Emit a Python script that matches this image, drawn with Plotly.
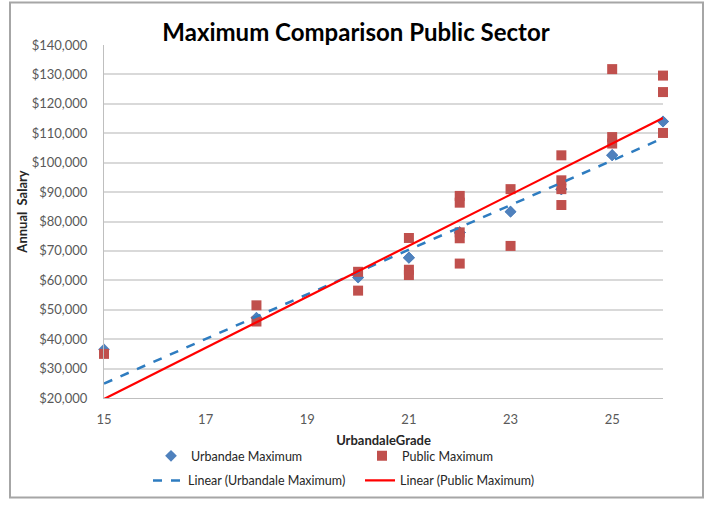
import numpy as np
import plotly.graph_objects as go

# ---- data (one row per matched public position) ----
grade = [15, 18, 18, 20, 20, 21, 21, 21, 22, 22, 22, 22, 22,
         23, 23, 24, 24, 24, 24, 25, 25, 25, 26, 26, 26]
urbandale_max = [36500, 47250, 47250, 61000, 61000, 67700, 67700, 67700,
                 76300, 76300, 76300, 76300, 76300, 83350, 83350,
                 91000, 91000, 91000, 91000, 102550, 102550, 102550,
                 114000, 114000, 114000]
public_max = [35000, 51500, 46000, 62900, 56500, 74400, 63600, 61800,
              88700, 86400, 76300, 74300, 65700, 91000, 71700,
              102500, 94000, 91000, 85600, 131800, 108700, 106500,
              129600, 124000, 110100]

y_tick_vals = [20000, 30000, 40000, 50000, 60000, 70000, 80000,
               90000, 100000, 110000, 120000, 130000, 140000]
y_tick_text = ["$" + format(v, ",") for v in y_tick_vals]
x_range = [15, 26]

# linear trendlines (least squares, like Excel)
g = np.array(grade, dtype=float)
u_fit = np.polyfit(g, np.array(urbandale_max, dtype=float), 1)
p_fit = np.polyfit(g, np.array(public_max, dtype=float), 1)
trend_x = np.array(x_range, dtype=float)

FONT = "Lato"

fig = go.Figure()
fig.add_trace(go.Scatter(
    x=grade, y=urbandale_max, mode="markers", name="Urbandae Maximum",
    marker=dict(symbol="diamond", size=9, color="#4F81BD"),
    cliponaxis=False, legend="legend"))
fig.add_trace(go.Scatter(
    x=grade, y=public_max, mode="markers", name="Public Maximum",
    marker=dict(symbol="square", size=10, color="#C0504D"),
    cliponaxis=False, legend="legend"))
fig.add_trace(go.Scatter(
    x=trend_x, y=np.polyval(u_fit, trend_x), mode="lines",
    name="Linear (Urbandale Maximum)",
    line=dict(color="#2E7CC0", width=2.5, dash="dash"),
    legend="legend2"))
fig.add_trace(go.Scatter(
    x=trend_x, y=np.polyval(p_fit, trend_x), mode="lines",
    name="Linear (Public Maximum)",
    line=dict(color="#FF0000", width=2.2),
    legend="legend2"))

L, R, T, B = 104, 47, 45, 105
W, H = 710, 508
pw, ph = W - L - R, H - T - B


def px(xp):
    return (xp - L) / pw


def py(yp):
    return (H - B - yp) / ph


fig.update_layout(
    width=W, height=H,
    margin=dict(l=L, r=R, t=T, b=B),
    paper_bgcolor="white", plot_bgcolor="white",
    font=dict(family=FONT, size=13, color="#404040"),
    title=dict(text="<b>Maximum Comparison Public Sector</b>",
               x=356 / W, xanchor="center", y=1 - 33 / H, yanchor="middle",
               font=dict(family=FONT, size=24, color="#000000")),
    xaxis=dict(range=x_range, tick0=15, dtick=2, showgrid=False,
               zeroline=False, showline=True, linecolor="#BFBFBF",
               linewidth=1, ticks="", ticklabelstandoff=9,
               tickfont=dict(family=FONT, size=13, color="#595959"),
               title=dict(text="<b>UrbandaleGrade</b>", standoff=10,
                          font=dict(family=FONT, size=13, color="#262626"))),
    yaxis=dict(range=[20000, 140000], tickvals=y_tick_vals,
               ticktext=y_tick_text, showgrid=True, gridcolor="#D9D9D9",
               gridwidth=1.5, zeroline=False, showline=True,
               linecolor="#BFBFBF", linewidth=1, ticks="",
               ticklabelstandoff=13,
               tickfont=dict(family=FONT, size=13, color="#595959")),
    legend=dict(orientation="h", x=px(151), xanchor="left",
                y=py(462), yanchor="middle", entrywidth=166,
                entrywidthmode="pixels", bgcolor="rgba(0,0,0,0)",
                font=dict(family=FONT, size=12.5, color="#262626")),
    legend2=dict(orientation="h", x=px(148), xanchor="left",
                 y=py(487), yanchor="middle", entrywidth=167,
                 entrywidthmode="pixels", bgcolor="rgba(0,0,0,0)",
                 font=dict(family=FONT, size=12.5, color="#262626")),
    annotations=[dict(text="<b>Annual  Salary</b>", textangle=-90,
                      xref="paper", yref="paper", x=px(22), y=py(215),
                      xanchor="center", yanchor="middle", showarrow=False,
                      font=dict(family=FONT, size=13, color="#262626"))],
    shapes=[dict(type="rect", xref="paper", yref="paper",
                 x0=px(10), x1=px(703), y0=py(504), y1=py(2),
                 line=dict(color="#A6A6A6", width=2), layer="below")],
    showlegend=True,
)

fig.write_html("out.html")
